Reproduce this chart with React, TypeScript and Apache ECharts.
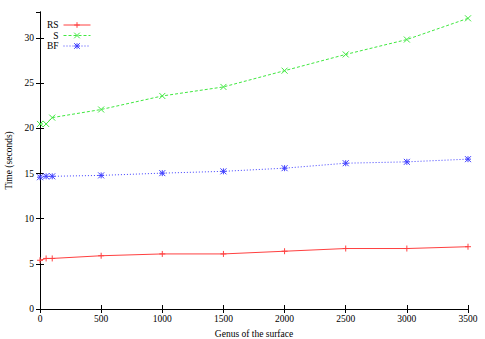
import React, { useEffect, useRef } from "react";
import * as echarts from "echarts";

const genus = [0, 50, 100, 500, 1000, 1500, 2000, 2500, 3000, 3500];
const rsTimes = [5.4, 5.6, 5.6, 5.9, 6.1, 6.1, 6.4, 6.7, 6.7, 6.9];
const sTimes = [20.5, 20.5, 21.2, 22.1, 23.6, 24.6, 26.4, 28.2, 29.85, 32.2];
const bfTimes = [14.6, 14.7, 14.7, 14.8, 15.05, 15.25, 15.6, 16.15, 16.3, 16.6];
const seriesNames = ["RS", "S", "BF"];

const FONT = "Liberation Serif";
const FS = 9.5;
const PLUS = "path://M5,0L5,10M0,5L10,5";
const CROSS = "path://M0,0L10,10M10,0L0,10";
const STAR = "path://M5,0L5,10M0,5L10,5M0,0L10,10M10,0L0,10";

function pairs(xs: number[], ys: number[]) {
  return xs.map((x, i) => [x, ys[i]]);
}

export default function App() {
  const ref = useRef<HTMLDivElement>(null);
  useEffect(() => {
    document.body.style.margin = "0";
    const chart = echarts.init(ref.current!, null, { renderer: "svg" });
    const colors = ["#ff4040", "#40e840", "#4040ff"];
    const symbols = [PLUS, CROSS, STAR];
    const types = ["solid", [3, 2], [1, 2]];
    const datas = [rsTimes, sTimes, bfTimes];
    const axisLine = { show: true, lineStyle: { color: "#000", width: 1 } };
    const tickStyle = { show: true, inside: true, length: 4, lineStyle: { color: "#000" } };
    chart.setOption({
      animation: false,
      backgroundColor: "#fff",
      textStyle: { fontFamily: FONT },
      grid: { left: 40, right: 17, top: 12, bottom: 30, outerBoundsMode: "none", containLabel: false },
      legend: {
        orient: "vertical",
        align: "right",
        right: 389,
        top: 15,
        itemWidth: 27,
        itemHeight: 7,
        itemGap: 0.5,
        lineStyle: { width: 1 },
        textStyle: { fontFamily: FONT, fontSize: 9.5, color: "#000", lineHeight: 9 },
        data: seriesNames.map((name, i) => ({
          name,
          itemStyle: { color: colors[i], borderColor: colors[i], borderWidth: 1 },
        })),
      },
      xAxis: [
        {
          type: "value",
          min: 0,
          max: 3500,
          interval: 500,
          name: "Genus of the surface",
          nameLocation: "middle",
          nameGap: 19,
          nameTextStyle: { fontFamily: FONT, fontSize: FS, color: "#000" },
          axisLine,
          axisTick: tickStyle,
          axisLabel: { fontFamily: FONT, fontSize: FS, color: "#000", margin: 5, formatter: (v: number) => String(v) },
          splitLine: { show: false },
        },
        {
          type: "value",
          position: "top",
          min: 0,
          max: 3500,
          interval: 500,
          axisLine,
          axisTick: tickStyle,
          axisLabel: { show: false },
          splitLine: { show: false },
        },
      ],
      yAxis: [
        {
          type: "value",
          min: 0,
          max: 32.9,
          interval: 5,
          name: "Time (seconds)",
          nameLocation: "middle",
          nameGap: 24,
          nameTextStyle: { fontFamily: FONT, fontSize: FS, color: "#000" },
          axisLine,
          axisTick: tickStyle,
          axisLabel: { fontFamily: FONT, fontSize: FS, color: "#000", margin: 6, showMaxLabel: false, formatter: (v: number) => String(v) },
          splitLine: { show: false },
        },
        {
          type: "value",
          position: "right",
          min: 0,
          max: 32.9,
          interval: 5,
          axisLine,
          axisTick: tickStyle,
          axisLabel: { show: false },
          splitLine: { show: false },
        },
      ],
      series: seriesNames.map((name, i) => ({
        name,
        type: "line",
        data: pairs(genus, datas[i]),
        symbol: symbols[i],
        symbolSize: 6,
        showAllSymbol: true,
        lineStyle: { color: colors[i], width: 1, type: types[i] },
        itemStyle: { color: colors[i], borderColor: colors[i], borderWidth: 1 },
      })),
    });
    return () => chart.dispose();
  }, []);
  return <div ref={ref} style={{ width: 485, height: 339 }} />;
}
